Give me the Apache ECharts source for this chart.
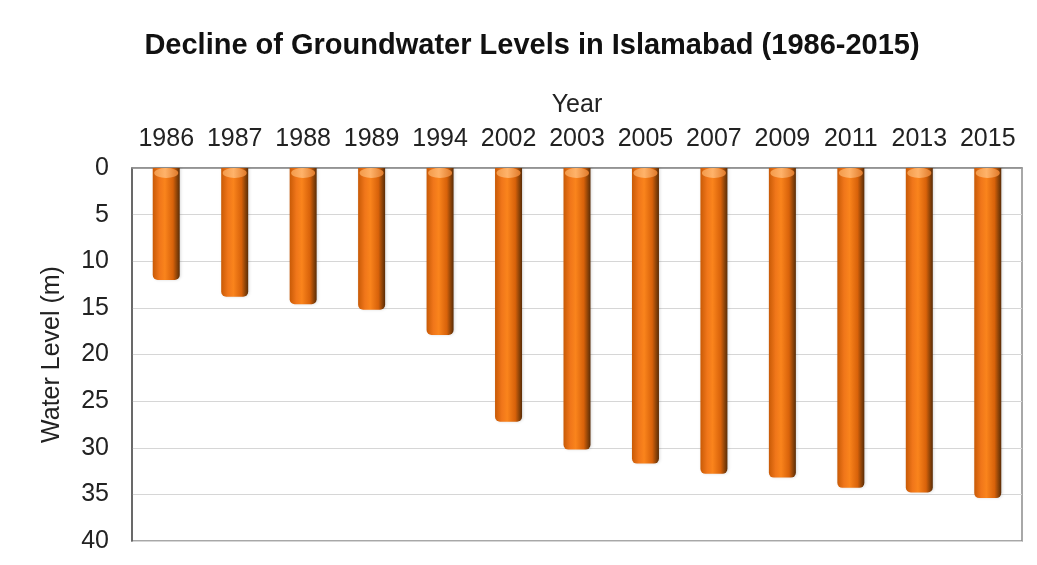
<!DOCTYPE html>
<html>
<head>
<meta charset="utf-8">
<script src="https://cdn.jsdelivr.net/npm/echarts@6/dist/echarts.min.js"></script>
<style>
  html, body { margin: 0; padding: 0; background: #fff; }
  #chart { width: 1037px; height: 565px; }
</style>
</head>
<body>
<div id="chart"></div>
<script>
// Survey years and depth to groundwater (m below surface)
var years = ['1986', '1987', '1988', '1989', '1994', '2002', '2003', '2005', '2007', '2009', '2011', '2013', '2015'];
var waterLevel = [12.0, 13.8, 14.6, 15.2, 17.9, 27.2, 30.2, 31.7, 32.8, 33.2, 34.3, 34.8, 35.4];
var depthTicks = { min: 0, max: 40, step: 5 };

var FONT = '"Liberation Sans", Arial, sans-serif';

// Horizontal gradient gives each column a rounded, cylindrical look
var bodyFill = new echarts.graphic.LinearGradient(0, 0, 1, 0, [
  { offset: 0, color: '#c85a06' },
  { offset: 0.25, color: '#f0761a' },
  { offset: 0.45, color: '#fa841c' },
  { offset: 0.75, color: '#d8620a' },
  { offset: 0.9, color: '#8a4208' },
  { offset: 1, color: '#5a2c06' }
]);
var capFill = new echarts.graphic.LinearGradient(0, 0, 1, 0, [
  { offset: 0, color: '#f39a4a' },
  { offset: 0.45, color: '#ffb36a' },
  { offset: 1, color: '#e07a2a' }
]);

var chart = echarts.init(document.getElementById('chart'), null, { renderer: 'canvas' });
chart.setOption({
  animation: false,
  backgroundColor: '#ffffff',
  title: {
    text: 'Decline of Groundwater Levels in Islamabad (1986-2015)',
    left: 527,
    textAlign: 'center',
    top: 26,
    textStyle: { fontFamily: FONT, fontSize: 29, fontWeight: 'bold', color: '#111' }
  },
  grid: {
    left: 132, right: 15, top: 168, bottom: 24,
    show: true, borderColor: '#8c8c8c', borderWidth: 1.5, backgroundColor: '#fff'
  },
  xAxis: {
    type: 'category',
    data: years,
    position: 'top',
    name: 'Year',
    nameLocation: 'middle',
    nameGap: 50,
    nameTextStyle: { fontFamily: FONT, fontSize: 25, color: '#222' },
    axisLine: { show: true, lineStyle: { color: '#8c8c8c', width: 1.5 } },
    axisTick: { show: false },
    axisLabel: { fontFamily: FONT, fontSize: 25, color: '#222', margin: 16, interval: 0 }
  },
  yAxis: {
    type: 'value',
    inverse: true,
    min: depthTicks.min,
    max: depthTicks.max,
    interval: depthTicks.step,
    name: 'Water Level (m)',
    nameLocation: 'middle',
    nameGap: 67,
    nameTextStyle: { fontFamily: FONT, fontSize: 25, color: '#222' },
    axisLine: { show: true, lineStyle: { color: '#555', width: 1.5 } },
    axisTick: { show: false },
    axisLabel: { fontFamily: FONT, fontSize: 25, color: '#222', margin: 23 },
    splitLine: { show: true, lineStyle: { color: '#d6d6d6', width: 1 } }
  },
  series: [
    {
      type: 'bar',
      data: waterLevel,
      barWidth: 27,
      itemStyle: { color: bodyFill, borderRadius: [0, 0, 5, 5], shadowColor: 'rgba(0,0,0,0.15)', shadowBlur: 3, shadowOffsetX: 1 }
    },
    {
      // Lighter elliptical top of each column
      type: 'pictorialBar',
      data: waterLevel,
      symbol: 'circle',
      symbolSize: [24, 10],
      symbolPosition: 'start',
      symbolOffset: [0, 0],
      itemStyle: { color: capFill },
      z: 3,
      silent: true
    }
  ]
});
</script>
</body>
</html>
